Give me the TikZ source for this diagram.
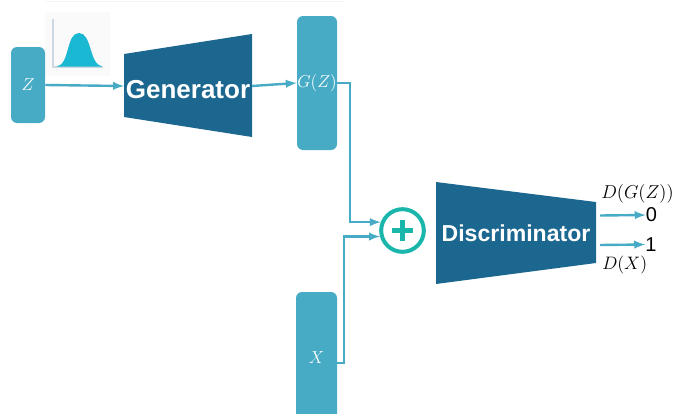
\documentclass[tikz,border=0pt]{standalone}
\usepackage{fix-cm}
\usepackage{fontspec}
\setmainfont{Liberation Sans}
\usepackage{tikz}

\definecolor{barblue}{RGB}{72,171,197}
\definecolor{netblue}{RGB}{27,103,143}
\definecolor{plusteal}{RGB}{26,181,171}
\definecolor{bellcyan}{RGB}{26,184,210}
\definecolor{axisgrey}{RGB}{205,216,226}

\tikzset{
  bar/.style={fill=barblue,rounded corners=4.5pt,inner sep=0pt,text=white,font=\fontsize{13}{15}\selectfont},
  net/.style={fill=netblue},
  netlabel/.style={inner sep=0pt,text=white,font=\bfseries},
  link/.style={color=barblue,line width=1.8pt,-latex},
  outlabel/.style={inner sep=0pt,font=\fontsize{15}{17}\selectfont},
}

\begin{document}
\begin{tikzpicture}[x=0.75pt,y=0.75pt,yscale=-1,xscale=1]
\useasboundingbox (0,0) rectangle (675,414);

%Straight Lines: faint rule along the top
\draw [color=black!4,line width=0.75pt] (45,1) -- (345,1) ;

%Shape: Rectangle, plot background
\fill [color=black!2] (45,12) -- (110,12) -- (110,76) -- (45,76) -- cycle ;
%Shape: Axes of the plot
\draw [color=axisgrey,line width=1.8pt] (53,19) -- (53,67) -- (103,67) ;
%Shape: Bell curve
\fill [color=bellcyan] (57,66.5) .. controls (70,64) and (66,33) .. (79,33) .. controls (92,33) and (89,64) .. (102,66.5) -- cycle ;

%Shape: Trapezoid, generator
\fill [net] (124,54) -- (252,34) -- (252,137) -- (124,117) -- cycle ;
%Shape: Trapezoid, discriminator
\fill [net] (436,182) -- (596,202) -- (596,263) -- (436,284) -- cycle ;

% Text Node
\node (z) [bar,minimum width=25.5pt,minimum height=57pt] at (28,85) {$Z$};
% Text Node
\node (gz) [bar,minimum width=30pt,minimum height=100.5pt] at (317,83) {$G(Z)$};
% Text Node
\node (x) [bar,minimum width=30.75pt,minimum height=99pt] at (316.5,358) {$X$};
% Text Node
\node (gen) [netlabel] at (188,90) {\fontsize{19.5}{22}\selectfont Generator};
% Text Node
\node (disc) [netlabel] at (516,233) {\fontsize{17.3}{20}\selectfont Discriminator};
% Text Node
\node (plus) [circle,draw=plusteal,line width=3pt,minimum size=32pt,inner sep=0pt] at (402.5,230.5) {};
% Text Node
\node (zero) [outlabel] at (651.5,215) {0};
% Text Node
\node (one) [outlabel] at (651,244.5) {1};
% Text Node
\node (dgz) [outlabel,anchor=west] at (601,194) {\fontsize{14}{16}\selectfont $D(G(Z))$};
% Text Node
\node (dx) [outlabel,anchor=west] at (602,265) {\fontsize{13.5}{16}\selectfont $D(X)$};

%Shape: Plus sign
\draw [color=plusteal,line width=3.8pt] (392,230.5) -- (413,230.5) ;
\draw [color=plusteal,line width=3.8pt] (402.5,220) -- (402.5,241) ;

\coordinate (genin) at (124,86);
\coordinate (genout) at (252,86);
\coordinate (gzbend) at (350,83);
\coordinate (xbend) at (344,363);
\coordinate (xstart) at (336,363);
\coordinate (zeroout) at (600,215.5);
\coordinate (oneout) at (600,245);

%Straight Lines
\draw [link] (z.east) -- (genin) ;
%Straight Lines
\draw [link] (genout) -- (gz.west) ;
%Straight Lines
\draw [link] (gz.east) -- (gzbend) |- (plus.159) ;
%Straight Lines
\draw [link] (xstart) -- (xbend) |- (plus.195) ;
%Straight Lines
\draw [link] (zeroout) -- (zero.west) ;
%Straight Lines
\draw [link] (oneout) -- (one.west) ;

\end{tikzpicture}
\end{document}
